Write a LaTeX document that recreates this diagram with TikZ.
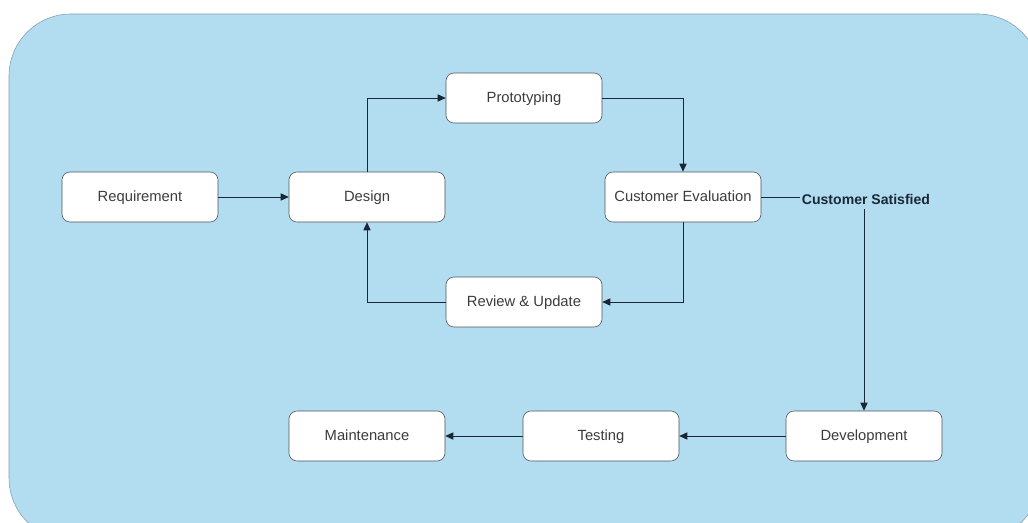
\documentclass[tikz,border=0pt]{standalone}
\usepackage{fontspec}
\setmainfont{Liberation Sans}
\usetikzlibrary{arrows.meta}
\definecolor{panelblue}{RGB}{178,220,239}
\definecolor{panelline}{RGB}{130,160,175}
\definecolor{boxline}{RGB}{70,80,90}
\definecolor{boxtext}{RGB}{60,60,60}
\definecolor{wireline}{RGB}{25,40,55}

\begin{document}
\begin{tikzpicture}[x=0.025cm,y=-0.025cm]

%
% Styles
%
\tikzstyle{stage} = [rectangle,rounded corners=0.2cm,draw=boxline,fill=white,thin,
  minimum width=3.9cm,minimum height=1.25cm,text height=1.6ex,text depth=0.4ex,
  text=boxtext,font=\fontsize{10.5}{12}\selectfont]
\tikzstyle{wire} = [draw=wireline,line width=0.6pt,-{Triangle[length=2mm,width=1.8mm]}]
\tikzstyle{cond} = [inner sep=1pt,text height=1.6ex,text depth=0.4ex,
  text=wireline,font=\fontsize{10}{12}\selectfont\bfseries]

\useasboundingbox (0,0) rectangle (1028,523);
\clip (0,0) rectangle (1028,523);
\draw[draw=panelline,fill=panelblue,rounded corners=1.55cm] (9,14) rectangle (1040,540);

\node[stage] (req)    at (140,197) {Requirement};
\node[stage] (des)    at (367,197) {Design};
\node[stage] (proto)  at (524,98)  {Prototyping};
\node[stage] (ceval)  at (683,197) {Customer Evaluation};
\node[stage] (review) at (524,302) {Review \& Update};
\node[stage] (dev)    at (864,436) {Development};
\node[stage] (test)   at (601,436) {Testing};
\node[stage] (maint)  at (367,436) {Maintenance};

\node[cond] (sat) at (866,200) {Customer Satisfied};

\path[wire] (req) -- (des);
\path[wire] (des) |- (proto);
\path[wire] (proto) -| (ceval);
\path[wire] (ceval) |- (review);
\path[wire] (review) -| (des);
\draw[draw=wireline,line width=0.6pt] (ceval.east) -- (ceval.east -| sat.west);
\path[wire] (sat.south -| dev.north) -- (dev.north);
\path[wire] (dev) -- (test);
\path[wire] (test) -- (maint);

\end{tikzpicture}
\end{document}
